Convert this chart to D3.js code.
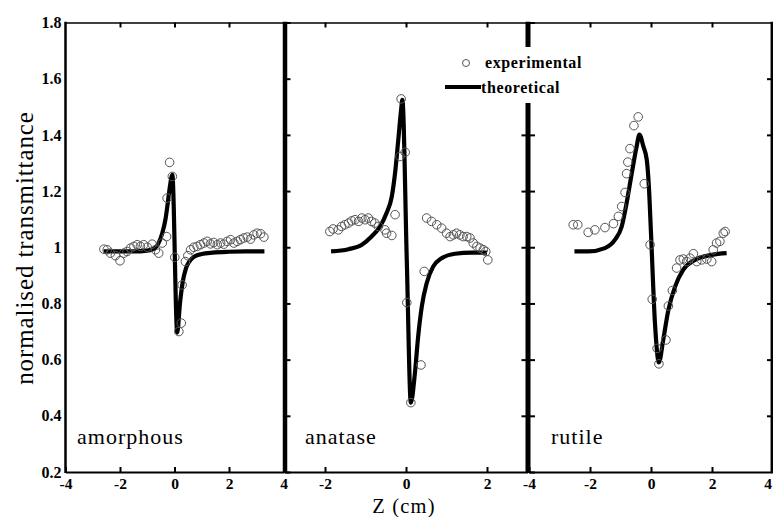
<!DOCTYPE html>
<html><head><meta charset="utf-8">
<script src="https://cdn.jsdelivr.net/npm/d3@7"></script>
<style>body{margin:0;background:#fff} svg{display:block}</style>
</head><body><svg id="c" width="773" height="517"></svg>
<script>
// ---- data ----
const panelNames = ["amorphous", "anatase", "rutile"];
const yTicks = [0.2, 0.4, 0.6, 0.8, 1.0, 1.2, 1.4, 1.6, 1.8];
const yTickLabels = ["0.2", "0.4", "0.6", "0.8", "1", "1.2", "1.4", "1.6", "1.8"];
const xTicksOuter = [-4, -2, 0, 2, 4];
const xTicksMiddle = [-2, 0, 2];
const xTickLabels = ["-4", "-2", "0", "2", "4"];
const legendLabels = ["experimental", "theoretical"];
const xTitle = "Z (cm)";
const yTitle = "normalised transmittance";

const amorphousExpZ = [-2.59,-2.47,-2.35,-2.17,-2.0,-1.86,-1.74,-1.61,-1.49,-1.37,-1.25,-1.13,-1.0,-0.82,-0.7,-0.58,-0.45,-0.29,-0.27,-0.18,-0.08,0.01,0.16,0.25,0.28,0.4,0.49,0.59,0.71,0.83,0.95,1.08,1.2,1.32,1.44,1.57,1.69,1.81,1.93,2.06,2.18,2.3,2.42,2.54,2.67,2.79,2.91,3.03,3.16,3.28];
const amorphousExpT = [0.993,0.991,0.979,0.970,0.952,0.979,0.985,0.997,1.003,1.009,1.003,1.009,1.0,1.011,0.991,0.979,1.015,1.038,1.175,1.302,1.252,0.964,0.700,0.730,0.866,0.949,0.970,0.991,1.0,1.003,1.009,1.015,1.021,1.012,1.017,1.009,1.015,1.011,1.021,1.027,1.015,1.021,1.027,1.033,1.036,1.029,1.044,1.05,1.048,1.036];
const amorphousTheoZ = [-2.6,-2.0,-1.5,-1.0,-0.75,-0.6,-0.45,-0.33,-0.25,-0.17,-0.08,0.10,0.20,0.30,0.42,0.55,0.75,1.0,1.4,2.0,2.6,3.3];
const amorphousTheoT = [0.985,0.985,0.985,0.988,0.995,1.012,1.05,1.10,1.155,1.215,1.258,0.696,0.80,0.875,0.925,0.950,0.968,0.976,0.981,0.984,0.985,0.985];

const anataseExpZ = [-1.88,-1.8,-1.67,-1.59,-1.51,-1.42,-1.34,-1.26,-1.17,-1.09,-1.01,-0.93,-0.85,-0.77,-0.68,-0.52,-0.48,-0.35,-0.27,-0.15,-0.02,-0.12,0.02,0.12,0.37,0.45,0.51,0.63,0.76,0.88,1.0,1.09,1.17,1.25,1.33,1.41,1.5,1.58,1.66,1.75,1.83,1.91,1.97,2.02];
const anataseExpT = [1.056,1.065,1.062,1.074,1.08,1.086,1.094,1.098,1.092,1.104,1.098,1.104,1.092,1.086,1.074,1.062,1.05,1.042,1.116,1.323,1.338,1.528,0.803,0.447,0.581,0.914,1.104,1.092,1.08,1.068,1.05,1.038,1.044,1.05,1.044,1.038,1.038,1.033,1.015,1.003,0.997,0.991,0.985,0.955];
const anataseTheoZ = [-1.85,-1.42,-1.09,-0.85,-0.64,-0.48,-0.35,-0.27,-0.19,-0.12,-0.09,0.02,0.12,0.22,0.30,0.39,0.51,0.67,0.88,1.21,1.62,2.0];
const anataseTheoT = [0.985,0.993,1.009,1.038,1.074,1.122,1.181,1.264,1.383,1.49,1.525,0.95,0.447,0.552,0.682,0.789,0.872,0.931,0.961,0.977,0.981,0.981];

const rutileExpZ = [-2.55,-2.4,-2.06,-1.84,-1.51,-1.23,-1.07,-0.96,-0.85,-0.8,-0.76,-0.69,-0.56,-0.42,-0.22,-0.03,0.04,0.2,0.26,0.49,0.57,0.7,0.84,0.95,1.06,1.17,1.28,1.39,1.5,1.66,1.83,1.99,2.04,2.15,2.26,2.37,2.43];
const rutileExpT = [1.08,1.08,1.053,1.062,1.07,1.084,1.11,1.145,1.195,1.262,1.303,1.351,1.433,1.464,1.226,1.009,0.815,0.64,0.585,0.67,0.791,0.846,0.926,0.955,0.958,0.949,0.961,0.977,0.949,0.955,0.958,0.949,0.991,1.015,1.021,1.05,1.056];
const rutileTheoZ = [-2.51,-2.06,-1.51,-1.18,-0.96,-0.80,-0.63,-0.47,-0.38,-0.25,-0.14,-0.07,0.0,0.13,0.26,0.40,0.57,0.79,1.06,1.44,1.99,2.48];
const rutileTheoT = [0.985,0.985,0.997,1.027,1.074,1.157,1.264,1.359,1.401,1.359,1.312,1.217,1.05,0.73,0.59,0.67,0.777,0.86,0.92,0.955,0.973,0.979];

// ---- layout ----
const svg = d3.select("#c");
svg.append("rect").attr("width", 773).attr("height", 517).attr("fill", "#fff");
const serif = "'Liberation Serif', 'Times New Roman', serif";
const yTop = 22.5, yBot = 472;
const y = d3.scaleLinear().domain([0.2, 1.8]).range([yBot, yTop]);

const panels = [
  { name: panelNames[0], dom: [-4, 4], rng: [65.5, 283.5], ticks: xTicksOuter, ez: amorphousExpZ, et: amorphousExpT, tz: amorphousTheoZ, tt: amorphousTheoT, leftTicks: 0, rightTicks: 0, labelX: 77 },
  { name: panelNames[1], dom: [-3, 3], rng: [284.5, 527.5], ticks: xTicksMiddle, ez: anataseExpZ, et: anataseExpT, tz: anataseTheoZ, tt: anataseTheoT, leftTicks: -6, rightTicks: -6, labelX: 305 },
  { name: panelNames[2], dom: [-4, 4], rng: [529, 773], ticks: xTicksOuter, ez: rutileExpZ, et: rutileExpT, tz: rutileTheoZ, tt: rutileTheoT, leftTicks: -6, rightTicks: -6, labelX: 551 }
];

panels.forEach((p, i) => {
  const x = d3.scaleLinear().domain(p.dom).range(p.rng);
  const g = svg.append("g");

  // theoretical curve
  g.append("path")
    .datum(p.tz.map((z, k) => [z, p.tt[k]]))
    .attr("fill", "none").attr("stroke", "#000").attr("stroke-width", 4.2)
    .attr("stroke-linejoin", "round")
    .attr("d", d3.line().x(d => x(d[0])).y(d => y(d[1])).curve(d3.curveMonotoneX));

  // experimental points
  g.selectAll("circle.e").data(p.ez.map((z, k) => [z, p.et[k]])).join("circle")
    .attr("cx", d => x(d[0])).attr("cy", d => y(d[1])).attr("r", 4.3)
    .attr("fill", "none").attr("stroke", "#555").attr("stroke-width", 1);

  // bottom axis
  const bx = g.append("g").attr("transform", `translate(0,${yBot})`)
    .call(d3.axisBottom(x).tickValues(p.ticks).tickSizeInner(-5).tickSizeOuter(0).tickPadding(6)
      .tickFormat(d => xTickLabels[xTicksOuter.indexOf(d)]));
  // top axis
  const tx = g.append("g").attr("transform", `translate(0,${yTop})`)
    .call(d3.axisTop(x).tickValues(p.ticks.filter(d => Math.abs(d) < 3)).tickSizeInner(-5).tickSizeOuter(0).tickFormat(""));
  bx.select(".domain").attr("stroke-width", 2);
  tx.select(".domain").attr("stroke-width", 1.5);
  [bx, tx].forEach(a => a.selectAll(".tick line").attr("stroke-width", 2));
  bx.selectAll(".tick text").attr("font-family", serif).attr("font-weight", "bold").attr("font-size", 15.5).attr("fill", "#000");
  if (i === 2) bx.selectAll(".tick text").filter(d => d === 4).attr("text-anchor", "end").attr("dx", -1.5);

  // left axis
  const la = g.append("g").attr("transform", `translate(${p.rng[0]},0)`)
    .call(d3.axisLeft(y).tickValues(yTicks).tickSizeInner(p.leftTicks).tickSizeOuter(0).tickPadding(4)
      .tickFormat(i === 0 ? (d => yTickLabels[yTicks.indexOf(d)]) : ""));
  la.select(".domain").remove();
  la.selectAll(".tick line").attr("stroke-width", 2);
  la.selectAll(".tick text").attr("font-family", serif).attr("font-weight", "bold").attr("font-size", 16).attr("fill", "#000");
  // right axis
  const ra = g.append("g").attr("transform", `translate(${p.rng[1]},0)`)
    .call(d3.axisRight(y).tickValues(yTicks.slice(1, -1)).tickSizeInner(p.rightTicks).tickSizeOuter(0).tickFormat(""));
  ra.select(".domain").remove();
  ra.selectAll(".tick line").attr("stroke-width", 2);

  // panel name
  svg.append("text").attr("x", p.labelX).attr("y", 444).text(p.name)
    .attr("font-family", serif).attr("font-size", 22).attr("letter-spacing", 1).attr("fill", "#000");
});

// borders
const border = (xp, w) => svg.append("line").attr("x1", xp).attr("x2", xp).attr("y1", yTop - 0.75).attr("y2", yBot + 1)
  .attr("stroke", "#000").attr("stroke-width", w);
border(65.5, 2.5);
border(285, 4.5);
border(528, 5);
border(771.8, 2.5);

// legend
const lg = svg.append("g");
lg.append("rect").attr("x", 440).attr("y", 47).attr("width", 165).attr("height", 56).attr("fill", "#fff");
lg.append("circle").attr("cx", 466).attr("cy", 63).attr("r", 3.5).attr("fill", "none").attr("stroke", "#555").attr("stroke-width", 1);
lg.append("text").attr("x", 485).attr("y", 68).text(legendLabels[0])
  .attr("font-family", serif).attr("font-weight", "bold").attr("font-size", 16).attr("letter-spacing", 0.6).attr("fill", "#000");
lg.append("line").attr("x1", 445).attr("x2", 481).attr("y1", 87).attr("y2", 87).attr("stroke", "#000").attr("stroke-width", 4);
lg.append("text").attr("x", 481).attr("y", 93).text(legendLabels[1])
  .attr("font-family", serif).attr("font-weight", "bold").attr("font-size", 16).attr("letter-spacing", 0.6).attr("fill", "#000");

// axis titles
svg.append("text").attr("transform", "translate(33,248) rotate(-90)").attr("text-anchor", "middle")
  .text(yTitle).attr("font-family", serif).attr("font-size", 25).attr("letter-spacing", 0.9).attr("fill", "#000");
svg.append("text").attr("x", 404).attr("y", 513).attr("text-anchor", "middle")
  .text(xTitle).attr("font-family", serif).attr("font-size", 20.5).attr("letter-spacing", 1.2).attr("fill", "#000");
</script></body></html>
